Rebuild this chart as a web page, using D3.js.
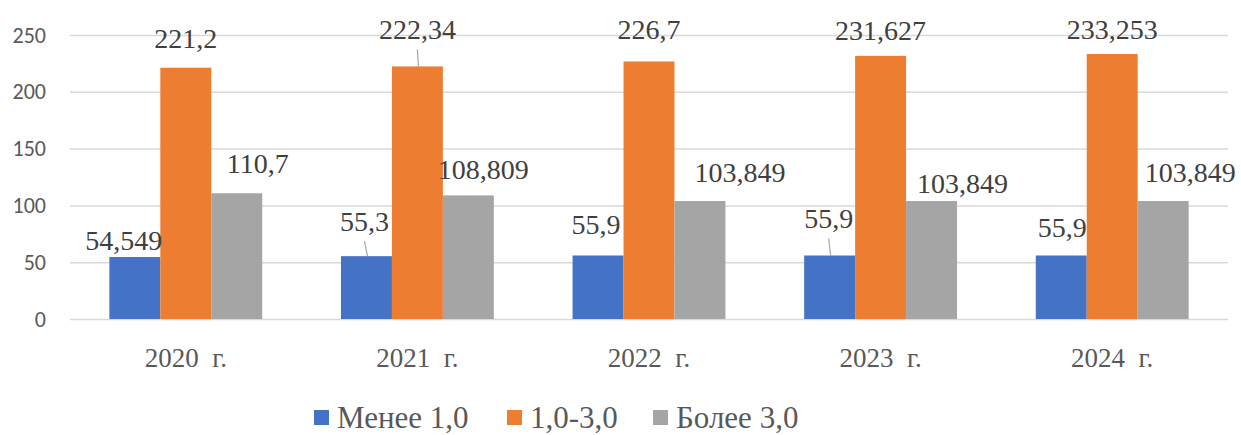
<!DOCTYPE html>
<html>
<head>
<meta charset="utf-8">
<script src="https://cdn.jsdelivr.net/npm/d3@7"></script>
</head>
<body style="margin:0">
<svg id="chart"></svg>
<script>
// data
let years = ['2020\u00a0 г.', '2021\u00a0 г.', '2022\u00a0 г.', '2023\u00a0 г.', '2024\u00a0 г.'];
let seriesNames = ['Менее 1,0', '1,0-3,0', 'Более 3,0'];
let less1 = [54.549, 55.3, 55.9, 55.9, 55.9];
let mid13 = [221.2, 222.34, 226.7, 231.627, 233.253];
let more3 = [110.7, 108.809, 103.849, 103.849, 103.849];
let labelText = [
    ['54,549', '55,3', '55,9', '55,9', '55,9'],
    ['221,2', '222,34', '226,7', '231,627', '233,253'],
    ['110,7', '108,809', '103,849', '103,849', '103,849']
];
let yTicks = [0, 50, 100, 150, 200, 250];

// layout only: how the labels were nudged by hand in the original
let nudge = [
    [[-11, -7], [-2, -25], [-2, -21], [-1, -27], [1, -18]],
    [[0, -20], [0, -27], [0, -22], [0, -16], [0, -15]],
    [[21, -20], [15, -16], [40, -19], [31, -8], [27, -19]]
];
let leaders = [[0, 1], [1, 1], [0, 3]]; // [series, year] with a leader line

let colors = ['#4472C4', '#ED7D31', '#A5A5A5'];
let values = [less1, mid13, more3];
let serif = 'Liberation Serif';

let w = 1241, h = 435;
let svg = d3.select('#chart').attr('width', w).attr('height', h);

let x = d3.scaleBand().domain(years).range([70, 1228]).paddingInner(0.34).paddingOuter(0.17);
let x1 = d3.scaleBand().domain(d3.range(3)).range([0, x.bandwidth()]);
let y = d3.scaleLinear().domain([0, 250]).range([319, 35]);

let yAxis = d3.axisLeft(y)
    .tickValues(yTicks)
    .tickSizeInner(-(1228 - 70))
    .tickSizeOuter(0)
    .tickPadding(24);

let $yAxis = svg.append('g')
    .attr('transform', 'translate(70, 0)')
    .call(yAxis);
$yAxis.select('.domain').remove();
$yAxis.selectAll('line').attr('stroke', '#d9d9d9').attr('stroke-width', 1.5);
$yAxis.selectAll('text')
    .attr('fill', '#595959')
    .attr('font-family', 'Carlito')
    .attr('font-size', 22);

let groups = svg.append('g')
    .selectAll('g')
    .data(years)
    .enter()
    .append('g')
    .attr('transform', d => `translate(${x(d)}, 0)`);

groups.selectAll('rect')
    .data((d, i) => values.map((s, k) => ({ k, v: s[i] })))
    .enter()
    .append('rect')
    .attr('x', d => x1(d.k))
    .attr('width', x1.bandwidth())
    .attr('y', d => y(d.v))
    .attr('height', d => y(0) - y(d.v))
    .attr('fill', d => colors[d.k]);

let cx = (k, i) => x(years[i]) + x1(k) + x1.bandwidth() / 2;

// leader lines
svg.append('g')
    .selectAll('line')
    .data(leaders)
    .enter()
    .append('line')
    .attr('x1', d => cx(d[0], d[1]) + nudge[d[0]][d[1]][0])
    .attr('y1', d => y(values[d[0]][d[1]]) + nudge[d[0]][d[1]][1] + 10)
    .attr('x2', d => cx(d[0], d[1]) + 1)
    .attr('y2', d => y(values[d[0]][d[1]]))
    .attr('stroke', '#a6a6a6')
    .attr('stroke-width', 1.2);

// data labels
let labels = [];
values.forEach((s, k) => s.forEach((v, i) => labels.push({ k, i, v })));
svg.append('g')
    .selectAll('text')
    .data(labels)
    .enter()
    .append('text')
    .attr('x', d => cx(d.k, d.i) + nudge[d.k][d.i][0])
    .attr('y', d => y(d.v) + nudge[d.k][d.i][1])
    .attr('text-anchor', 'middle')
    .attr('font-family', serif)
    .attr('font-size', 28)
    .attr('fill', '#404040')
    .text(d => labelText[d.k][d.i]);

// category labels
svg.append('g')
    .selectAll('text')
    .data(years)
    .enter()
    .append('text')
    .attr('x', d => x(d) + x.bandwidth() / 2)
    .attr('y', 367)
    .attr('text-anchor', 'middle')
    .attr('font-family', serif)
    .attr('font-size', 27)
    .attr('fill', '#595959')
    .text(d => d);

// legend
let legendX = [314, 507, 653];
let legend = svg.append('g')
    .selectAll('g')
    .data(seriesNames)
    .enter()
    .append('g')
    .attr('transform', (d, i) => `translate(${legendX[i]}, 410)`);

legend.append('rect')
    .attr('x', 0)
    .attr('y', 0)
    .attr('width', 15)
    .attr('height', 15)
    .attr('fill', (d, i) => colors[i]);

legend.append('text')
    .attr('x', 23)
    .attr('y', 18)
    .attr('font-family', serif)
    .attr('font-size', 31)
    .attr('fill', '#595959')
    .text(d => d);
</script>
</body>
</html>
